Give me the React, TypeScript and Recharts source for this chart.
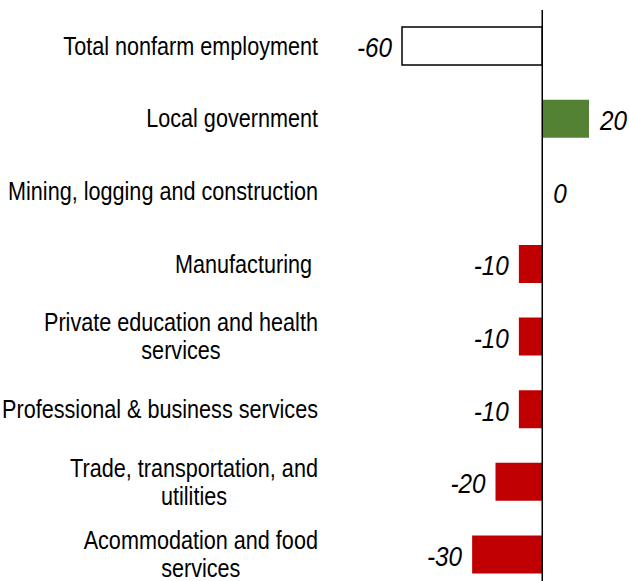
import { BarChart, Bar, XAxis, YAxis, Cell, LabelList, ReferenceLine } from 'recharts'

const categories = [
  ['Total nonfarm employment'],
  ['Local government'],
  ['Mining, logging and construction'],
  ['Manufacturing '],
  ['Private education and health', 'services'],
  ['Professional & business services'],
  ['Trade, transportation, and', 'utilities'],
  ['Acommodation and food', 'services'],
]
const changes = [-60, 20, 0, -10, -10, -10, -20, -30]
const barColors = ['#ffffff', '#548235', '#c00000', '#c00000', '#c00000', '#c00000', '#c00000', '#c00000']

const data = categories.map((lines, i) => ({ name: lines.join('\n'), value: changes[i] }))

const FONT = "'Liberation Sans', Arial, sans-serif"
const CAT_SIZE = 25
const CAT_SQUEEZE = 0.865
const VAL_SIZE = 27
const VAL_SQUEEZE = 0.9

let ctx: CanvasRenderingContext2D | null = null
function textWidth(s: string) {
  if (!ctx) ctx = document.createElement('canvas').getContext('2d')
  if (!ctx) return s.length * 12
  ctx.font = `${CAT_SIZE}px ${FONT}`
  return ctx.measureText(s).width * CAT_SQUEEZE
}

// category labels: block right-aligned, lines centred within the block
// eslint-disable-next-line @typescript-eslint/no-explicit-any
function CategoryTick({ x, y, payload }: any) {
  const lines: string[] = String(payload.value).split('\n')
  const right = x - 84
  const widest = Math.max(...lines.map(textWidth))
  const cx = lines.length > 1 ? right - widest / 2 : right
  const anchor = lines.length > 1 ? 'middle' : 'end'
  const lineH = 28
  const top = y - ((lines.length - 1) * lineH) / 2
  return (
    <g>
      {lines.map((l, i) => (
        <text
          key={i}
          transform={`translate(${cx},${top + i * lineH}) scale(${CAT_SQUEEZE},1)`}
          textAnchor={anchor}
          dominantBaseline="central"
          fontFamily={FONT}
          fontSize={CAT_SIZE}
          fill="#000"
          style={{ whiteSpace: 'pre' }}
        >
          {l}
        </text>
      ))}
    </g>
  )
}

// eslint-disable-next-line @typescript-eslint/no-explicit-any
function ValueLabel({ x, y, width, height, value }: any) {
  const left = Math.min(x, x + width)
  const right = Math.max(x, x + width)
  const neg = value < 0
  return (
    <text
      transform={`translate(${neg ? left - 10 : right + 11},${y + height / 2 + 2}) scale(${VAL_SQUEEZE},1)`}
      textAnchor={neg ? 'end' : 'start'}
      dominantBaseline="central"
      fontFamily={FONT}
      fontStyle="italic"
      fontSize={VAL_SIZE}
      fill="#000"
    >
      {value}
    </text>
  )
}

export default function App() {
  return (
    <div style={{ position: 'absolute', left: 0, top: 0, width: 629, height: 581, overflow: 'hidden', background: '#fff' }}>
      <BarChart
        width={629}
        height={591}
        data={data}
        layout="vertical"
        margin={{ top: 10, right: 40, bottom: 0, left: 318 }}
        barCategoryGap="47%"
      >
        <XAxis type="number" domain={[-60, 20]} hide />
        <YAxis
          type="category"
          dataKey="name"
          width={84}
          axisLine={false}
          tickLine={false}
          tickSize={0}
          tickMargin={0}
          interval={0}
          tick={<CategoryTick />}
        />
        <Bar
          dataKey="value"
          barSize={38}
          isAnimationActive={false}
          // eslint-disable-next-line @typescript-eslint/no-explicit-any
          minPointSize={(v: any) => (v === 0 ? 0.01 : 0)}
        >
          {data.map((_, i) => (
            <Cell
              key={i}
              fill={barColors[i]}
              stroke={i === 0 ? '#000' : 'none'}
              strokeWidth={i === 0 ? 1.5 : 0}
            />
          ))}
          <LabelList dataKey="value" content={<ValueLabel />} />
        </Bar>
        <ReferenceLine x={0} stroke="#000" strokeWidth={1.5} ifOverflow="visible" />
      </BarChart>
    </div>
  )
}
